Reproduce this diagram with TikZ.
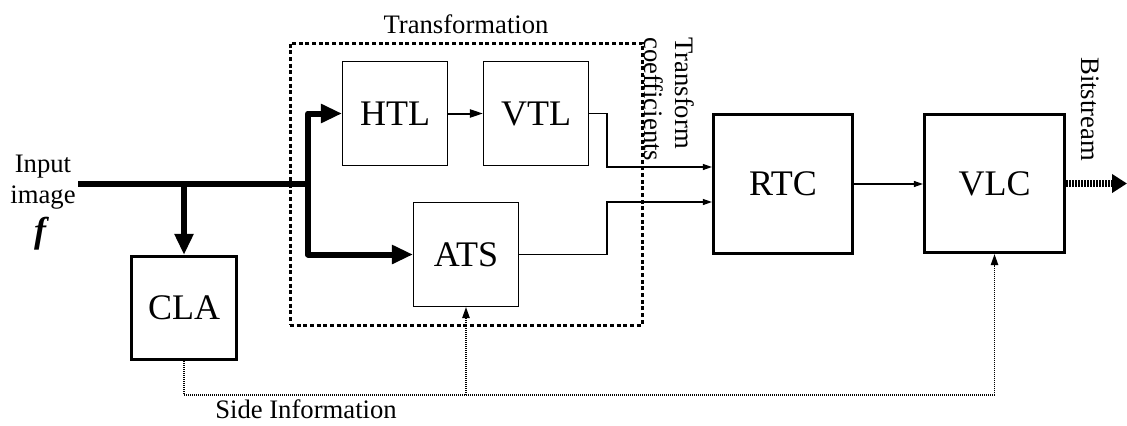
\documentclass[tikz,border=0pt]{standalone}
\usepackage{fontspec}
\setmainfont{Liberation Serif}
\usetikzlibrary{arrows.meta,calc}
\begin{document}
\begin{tikzpicture}[x=0.75pt,y=-0.75pt,
  thinbox/.style={draw, line width=0.8pt, minimum width=78.75pt, minimum height=78pt, inner sep=0pt, font=\fontsize{27}{30}\selectfont},
  thickbox/.style={draw, line width=2.4pt, inner sep=0pt, font=\fontsize{27}{30}\selectfont},
  lbl/.style={font=\fontsize{20}{23.25}\selectfont, inner sep=0pt},
  heavy/.style={line width=4.5pt, line join=round},
  heavyarrow/.style={heavy, -{Triangle[length=15.75pt,width=13.5pt]}},
  mid/.style={line width=1.5pt, -{Triangle[length=9.75pt,width=6pt]}},
  thin/.style={line width=0.8pt, -{Triangle[length=6.75pt,width=4.5pt]}},
  side/.style={line width=1.1pt, dash pattern=on 0.75pt off 0.75pt},
  sidearrow/.style={side, -{Triangle[length=8.25pt,width=5.5pt]}},
  group/.style={draw, line width=2.25pt, dash pattern=on 3pt off 2pt},
  stream/.style={line width=5pt, dash pattern=on 1.5pt off 0.75pt, -{Triangle[length=11.25pt,width=13.5pt]}}
]
\useasboundingbox (0,0) rectangle (1127,425);

% dotted frame of the transformation stage
\node[group, minimum width=264pt, minimum height=211.5pt] (trans) at (466,184) {};
\node[lbl, anchor=base] (ttl) at (466,33) {Transformation};

% processing blocks
\node[thickbox, minimum width=78.75pt, minimum height=77.25pt] (CLA) at (184,308) {CLA};
\node[thinbox] (HTL) at (395,113.5) {HTL};
\node[thinbox] (VTL) at (536,113.5) {VTL};
\node[thinbox] (ATS) at (466,254.5) {ATS};
\node[thickbox, minimum width=104.25pt, minimum height=104.25pt] (RTC) at (783,184) {RTC};
\node[thickbox, minimum width=105pt, minimum height=103.5pt] (VLC) at (994.5,183.5) {VLC};

% text labels
\node[lbl, rotate=-90, align=left, anchor=north west] (coef) at (695,37) {Transform\\coefficients};
\node[lbl, rotate=-90, anchor=north west] (bits) at (1099,57) {Bitstream};
\node[lbl, anchor=base] (sinfo) at (306,418) {Side Information};
\node[lbl, align=center, anchor=north] (inlbl) at (43,155) {Input\\image};
\node[anchor=base, inner sep=0pt, font=\fontsize{27}{27}\selectfont\bfseries\itshape] (fsym) at (40,242) {f};

% input image path
\coordinate (src) at (78,184);
\coordinate (fork) at (308,184);
\coordinate (tap) at (184,184);
\draw[heavy] (src) -- (fork);
\draw[heavyarrow] (tap) -- (CLA.north);
\draw[heavyarrow] (fork) |- (HTL.west);
\draw[heavyarrow] (fork) |- (ATS.west);
\draw[mid] (HTL.east) -- (VTL.west);

% transform coefficients to RTC
\coordinate (rail) at (607,0);
\coordinate (rtcA) at ([yshift=12.75pt]RTC.west);
\coordinate (rtcB) at ([yshift=-13.5pt]RTC.west);
\draw[thin] (VTL.east) -- (rail |- VTL.east) -- (rail |- rtcA) -- (rtcA);
\draw[thin] (ATS.east) -- (rail |- ATS.east) -- (rail |- rtcB) -- (rtcB);
\draw[thin] (RTC.east) -- (RTC.east -| VLC.west);

% output bitstream
\coordinate (out) at (1127,184);
\draw[stream] (VLC.east) -- (VLC.east -| out);

% side information bus
\coordinate (bus) at (0,395);
\draw[sidearrow] (CLA.south) -- (CLA.south |- bus) -- (VLC.south |- bus) -- (VLC.south);
\draw[sidearrow] (ATS.south |- bus) -- (ATS.south);
\end{tikzpicture}
\end{document}
